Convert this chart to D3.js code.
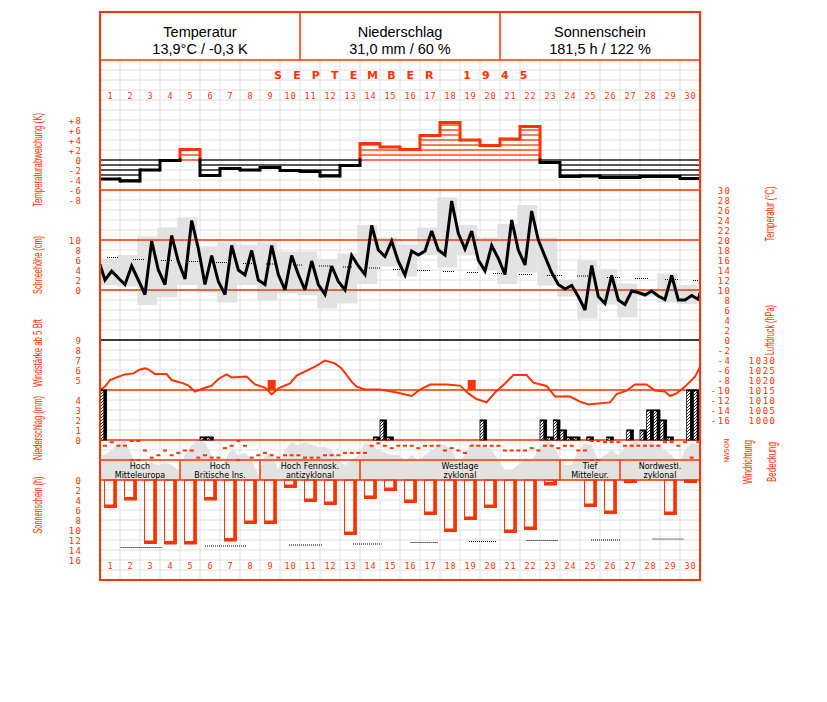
<!DOCTYPE html>
<html><head><meta charset="utf-8">
<script src="https://cdn.jsdelivr.net/npm/d3@7"></script>
<style>body{margin:0;background:#fff}</style>
</head><body><svg id="c" width="827" height="702"></svg>
<script>
// ---------------- DATA ----------------
const days = d3.range(1, 31);
const headerTitles = ["Temperatur", "Niederschlag", "Sonnenschein"];
const headerValues = ["13,9°C / -0,3 K", "31,0 mm / 60 %", "181,5 h / 122 %"];
const monthTitle = "SEPTEMBER 1945";

// daily temperature deviation (K)
const tempDeviation = [-3.8, -4.2, -2.0, -0.1, 2.1, -3.1, -1.7, -2.0, -1.5, -2.1, -2.3, -3.2, -1.1, 3.3, 2.6,
  2.1, 4.9, 7.5, 4.0, 2.9, 4.2, 6.7, -0.5, -3.3, -3.2, -3.5, -3.5, -3.3, -3.3, -3.7];

// temperature observations (°C), 3 per day (7, 14, 21 h)
const tempStart = 15.1, tempEnd = 9.5;
const tempObs = [12.0, 13.8, 12.4, 11.1, 14.8, 12.0, 9.1, 19.8, 14.0, 11.1, 20.9, 15.7, 12.2, 23.9, 18.3,
  11.1, 16.9, 11.7, 9.1, 18.9, 14.0, 13.0, 17.9, 12.0, 11.1, 18.9, 13.1, 10.0, 16.9, 13.1,
  10.0, 15.8, 11.1, 9.1, 14.8, 11.7, 10.0, 16.9, 14.8, 13.1, 22.9, 18.0, 16.7, 19.8, 15.7,
  13.0, 17.8, 17.0, 17.8, 21.8, 18.0, 17.0, 27.8, 21.3, 18.2, 21.8, 16.0, 13.8, 18.9, 16.3,
  13.1, 24.0, 18.0, 15.0, 25.8, 20.0, 16.7, 13.5, 11.1, 10.2, 10.9, 8.7, 6.0, 14.9, 8.7,
  7.3, 12.9, 8.0, 7.1, 9.8, 9.5, 9.0, 9.8, 8.8, 8.1, 12.9, 8.0, 8.0, 8.9, 8.1];
const tempMax = [16.3, 17.0, 20.7, 22.5, 24.5, 18.7, 19.5, 19.0, 19.5, 17.7, 17.7, 16.2, 17.3, 23.0, 20.5,
  19.1, 22.5, 28.5, 23.0, 20.5, 23.2, 27.0, 20.5, 12.0, 15.9, 14.2, 11.3, 10.0, 13.3, 11.0];
const tempMin = [11.0, 10.7, 7.0, 8.5, 11.0, 9.5, 7.5, 11.0, 7.9, 9.3, 9.0, 6.3, 7.3, 11.2, 14.7,
  12.7, 17.0, 14.5, 16.9, 14.0, 11.2, 13.5, 10.9, 8.7, 4.3, 7.1, 4.5, 8.7, 7.5, 7.2];
// long-term mean temperature (dotted), period start/end in days since 1 Sep 0 h
const normTempStart = [0.35, 1.65, 3.05, 4.45, 5.8, 7.15, 8.3, 9.65, 10.95, 12.15, 13.45, 14.65, 15.85, 17.15, 18.35, 19.65, 20.95, 22.35, 23.85, 25.35, 26.75, 28.25, 29.65];
const normTempEnd = [0.95, 2.2, 3.6, 5.0, 6.35, 7.65, 8.85, 10.15, 11.5, 12.65, 14.0, 15.1, 16.5, 17.7, 18.9, 20.15, 21.6, 23.1, 24.4, 26.0, 27.4, 28.9, 30.0];
const normTemp = [16.5, 16.1, 15.9, 15.7, 15.5, 15.3, 15.2, 15.0, 14.8, 14.6, 14.4, 14.1, 13.9, 13.7, 13.5, 13.3, 13.1, 12.9, 12.8, 12.5, 12.3, 12.1, 11.9];

// air pressure trace (time in days, hPa)
const pressureTime = [0, 0.25, 0.5, 0.83, 1.25, 1.67, 2.0, 2.25, 2.42, 2.75, 3.33, 3.58, 4.17, 4.42, 4.75, 5.08, 5.58, 5.92, 6.33, 6.58,
  7.33, 7.75, 8.25, 8.58, 8.92, 9.5, 9.83, 10.33, 10.75, 11.25, 11.75, 12.08, 12.58, 12.83, 13.25, 14.0, 14.83, 15.58, 16.0, 16.5,
  17.33, 18.0, 18.42, 18.83, 19.33, 19.75, 20.25, 20.67, 21.33, 21.67, 22.33, 22.75, 23.5, 24.0, 24.42, 25.5, 25.83, 26.33, 26.75, 27.33,
  27.75, 28.25, 28.5, 28.83, 29.25, 29.75, 30.0];
const pressure = [1015, 1016.7, 1020, 1021.3, 1022.8, 1023.3, 1025.3, 1025.8, 1025.3, 1023, 1023, 1020, 1018.3, 1017.2, 1014.2, 1015.5, 1017.2, 1020.5, 1022.8, 1021.3,
  1021.7, 1017.8, 1016.2, 1012.8, 1015.8, 1018.3, 1022.2, 1024.7, 1026.7, 1029.7, 1028.3, 1025.8, 1019.2, 1016.7, 1015.3, 1015.2, 1013.7, 1012, 1015.2, 1017.7,
  1017.7, 1017.2, 1013.3, 1010.5, 1008.8, 1013.8, 1018.3, 1022.5, 1022.5, 1018.7, 1017, 1011.7, 1011.7, 1009.2, 1007.8, 1008.8, 1013, 1014.7, 1017.8, 1017.8,
  1014.7, 1014.2, 1012, 1013.3, 1016.7, 1021.7, 1026.5];

// wind force >= 5 Bft
const windDays = [9, 19];
const windForce = [5, 5];

// precipitation per third of day (day, third 0..2, mm)
const precipDay = [1, 6, 6, 14, 15, 15, 20, 23, 23, 23, 24, 24, 24, 25, 26, 27, 28, 28, 28, 29, 29, 30, 30];
const precipThird = [0, 0, 1, 2, 0, 1, 0, 0, 1, 2, 0, 1, 2, 1, 1, 1, 0, 1, 2, 0, 1, 1, 2];
const precipMm = [5.0, 0.3, 0.3, 0.3, 2.0, 0.3, 2.0, 2.0, 0.3, 2.0, 1.0, 0.3, 0.3, 0.3, 0.3, 1.0, 1.0, 3.0, 3.0, 2.0, 0.3, 5.0, 7.8];

// wind direction (degrees) 3 per day
const windDir = [90, 22.5, 90, 90, 0, 0, 180, 315, 270, 180, 270, 225, 180, 180, 315,
  270, 315, 315, 135, 90, 0, 90, 315, 270, 225, 270, 315, 270, 270, 270,
  315, 315, 315, 270, 270, 270, 225, 225, 225, 225, 90, 45, 90, 135, 90,
  90, 90, 135, 90, 90, 90, 180, 135, 180, 225, 90, 90, 90, 90, 90,
  180, 180, 180, 180, 135, 180, 90, 90, 135, 90, 90, 180, 180, 0, 0,
  22.5, 22.5, 22.5, 90, 90, 90, 90, 90, 90, 22.5, 22.5, 90, 22.5, 315, 22.5];
const dirLabels = ["N", "O", "S", "W", "N"];
const dirTicks = [0, 90, 180, 270, 360];

// cloud cover (octas) 3 per day
const cloudCover = [5, 6, 7.5, 7.7, 5, 2, 3, 3.5, 3, 3.5, 3, 2, 5, 7, 8, 7.5, 5, 2, 4, 6.4, 5, 5.5, 4, 1, 5, 5.4, 2, 6, 7.6, 7,
  7.6, 7, 6.6, 6.6, 6, 4, 3, 4, 5, 7.4, 7, 6, 5.5, 5, 5, 4, 5, 4, 5, 6, 7, 7, 6, 3.4, 5, 7.7, 7, 7, 6, 4,
  2, 2, 3, 4.4, 4, 6, 7.7, 7.5, 5, 3, 3, 6, 7.4, 7, 4, 5, 6, 5, 6.5, 7.6, 7.6, 7.6, 7.6, 7, 6, 5, 3, 6, 7.5, 7];

// weather types
const weatherLine1 = ["Hoch", "Hoch", "Hoch Fennosk.", "Westlage", "Tief", "Nordwestl."];
const weatherLine2 = ["Mitteleuropa", "Britische Ins.", "antizyklonal", "zyklonal", "Mitteleur.", "zyklonal"];
const weatherFirstDay = [1, 5, 9, 14, 24, 27];
const weatherLastDay = [4, 8, 13, 23, 26, 30];

// sunshine (h)
const sunshine = [5.5, 4.0, 12.7, 12.8, 12.8, 4.0, 12.2, 8.7, 8.7, 1.5, 4.3, 4.9, 10.9, 3.7, 2.1,
  4.5, 6.9, 10.3, 7.9, 5.5, 10.5, 9.9, 1.0, 0, 5.3, 6.7, 0.5, 0, 6.9, 0.5];
const normSunStart = [1.03, 5.25, 9.45, 12.65, 15.53, 18.45, 21.33, 24.55, 27.63];
const normSunEnd = [3.08, 7.3, 11.15, 14.08, 16.92, 19.8, 22.88, 26.0, 29.17];
const normSun = [13.5, 13.2, 13.0, 12.8, 12.5, 12.3, 12.1, 12.0, 11.8];

// tick labels
const devTicks = [8, 6, 4, 2, 0, -2, -4, -6, -8];
const snowTicks = [10, 8, 6, 4, 2, 0];
const windTicks = [9, 8, 7, 6, 5];
const precipTicks = [4, 3, 2, 1, 0];
const sunTicks = [0, 2, 4, 6, 8, 10, 12, 14, 16];
const tempTicks = d3.range(30, -17, -2);
const pressureTicks = [1030, 1025, 1020, 1015, 1010, 1005, 1000];

// ---------------- DRAWING ----------------
const RED = "#ff3300", GRID = "#e0e0e0", GRAY = "#e2e2e2";
const svg = d3.select("#c");
svg.append("rect").attr("width", 827).attr("height", 702).attr("fill", "#fff");

const x = d3.scaleLinear().domain([0, 30]).range([100, 700]);
const obsFrac = [0.25, 7 / 12, 11 / 12];
const obsT = i => Math.floor(i / 3) + obsFrac[i % 3];

const yDev = d3.scaleLinear().domain([-8, 8]).range([200, 120]);
const yT = d3.scaleLinear().domain([-16, 30]).range([420, 190]);
const ySnow = d3.scaleLinear().domain([0, 10]).range([290, 240]);
const yWind = d3.scaleLinear().domain([4, 9]).range([390, 340]);
const yP = d3.scaleLinear().domain([1000, 1030]).range([420, 360]);
const yPr = d3.scaleLinear().domain([0, 5]).range([440, 390]).clamp(true);
const yDir = d3.scaleLinear().domain([0, 360]).range([441, 460]);
const yCloud = d3.scaleLinear().domain([0, 8]).range([480, 440]);
const ySun = d3.scaleLinear().domain([0, 16]).range([480, 560]);
const yGrid = d3.scaleLinear().domain([0, 52]).range([60, 580]);

const defs = svg.append("defs");
defs.append("clipPath").attr("id", "plot").append("rect").attr("x", 100).attr("y", 60).attr("width", 600).attr("height", 520);
const pat = defs.append("pattern").attr("id", "hatch").attr("patternUnits", "userSpaceOnUse").attr("width", 3).attr("height", 3);
pat.append("rect").attr("width", 3).attr("height", 3).attr("fill", "#fff");
pat.append("path").attr("d", "M-1,1 L1,-1 M0,3 L3,0 M2,4 L4,2").attr("stroke", "#000").attr("stroke-width", 0.8);

const plot = svg.append("g").attr("clip-path", "url(#plot)");

// grid
plot.append("g").selectAll("line").data(d3.range(1, 52)).join("line")
  .attr("x1", 100).attr("x2", 700).attr("y1", d => yGrid(d)).attr("y2", d => yGrid(d))
  .attr("stroke", GRID).attr("stroke-width", 1);
plot.append("g").selectAll("line").data(d3.range(1, 30)).join("line")
  .attr("x1", d => x(d)).attr("x2", d => x(d)).attr("y1", 60).attr("y2", 580)
  .attr("stroke", GRID).attr("stroke-width", 1);

// temperature min/max boxes
plot.append("g").selectAll("rect").data(days).join("rect")
  .attr("x", (d, i) => x(i) - 2.7).attr("width", x(1) - x(0))
  .attr("y", (d, i) => yT(tempMax[i])).attr("height", (d, i) => yT(tempMin[i]) - yT(tempMax[i]))
  .attr("fill", GRAY);

// cloud cover area
const cloudPts = [{ t: 0, c: cloudCover[0] }].concat(cloudCover.map((c, i) => ({ t: obsT(i), c })), [{ t: 30, c: cloudCover[89] }]);
plot.append("path").datum(cloudPts)
  .attr("d", d3.area().x(p => x(p.t)).y0(yCloud(0)).y1(p => yCloud(p.c)))
  .attr("fill", GRAY);

// temperature deviation
const devG = plot.append("g");
tempDeviation.forEach((v, i) => {
  const col = v > 0 ? RED : "#000";
  const n = Math.floor(Math.abs(v));
  const s = v > 0 ? 1 : -1;
  for (let k = 0; k <= n; k++) {
    devG.append("line").attr("x1", x(i)).attr("x2", x(i + 1)).attr("y1", yDev(s * k)).attr("y2", yDev(s * k))
      .attr("stroke", col).attr("stroke-width", 1.3);
  }
  devG.append("line").attr("x1", x(i)).attr("x2", x(i + 1)).attr("y1", yDev(v)).attr("y2", yDev(v))
    .attr("stroke", col).attr("stroke-width", 3);
});
for (let i = 0; i < 29; i++) {
  const a = tempDeviation[i], b = tempDeviation[i + 1];
  const lo = Math.min(a, b), hi = Math.max(a, b);
  if (hi > 0) devG.append("line").attr("x1", x(i + 1)).attr("x2", x(i + 1))
    .attr("y1", yDev(Math.max(lo, 0)) + 1.5).attr("y2", yDev(hi) - 1.5).attr("stroke", RED).attr("stroke-width", 3);
  if (lo < 0) devG.append("line").attr("x1", x(i + 1)).attr("x2", x(i + 1))
    .attr("y1", yDev(Math.min(hi, 0)) - 1.5).attr("y2", yDev(lo) + 1.5).attr("stroke", "#000").attr("stroke-width", 3);
}

// panel separators
const hline = (y, col, w) => plot.append("line").attr("x1", 100).attr("x2", 700).attr("y1", y).attr("y2", y).attr("stroke", col).attr("stroke-width", w);
hline(yDev(-6), RED, 1.5);
hline(ySnow(10), RED, 1.5);
hline(ySnow(0), RED, 1.5);
hline(yT(0), "#000", 1.5);
hline(yWind(4), RED, 1.5);
hline(yPr(0), RED, 1.5);

// normal temperature (dotted)
plot.append("g").selectAll("line").data(normTemp).join("line")
  .attr("x1", (d, i) => x(normTempStart[i])).attr("x2", (d, i) => x(normTempEnd[i]))
  .attr("y1", d => yT(d)).attr("y2", d => yT(d))
  .attr("stroke", "#000").attr("stroke-width", 1).attr("stroke-dasharray", "1,1");

// temperature line
const tPts = [{ t: 0, v: tempStart }].concat(tempObs.map((v, i) => ({ t: obsT(i), v })), [{ t: 30, v: tempEnd }]);
plot.append("path").datum(tPts)
  .attr("d", d3.line().x(p => x(p.t)).y(p => yT(p.v)))
  .attr("fill", "none").attr("stroke", "#000").attr("stroke-width", 3).attr("stroke-linejoin", "miter").attr("stroke-miterlimit", 3);

// pressure line
plot.append("path").datum(pressure.map((p, i) => ({ t: pressureTime[i], p })))
  .attr("d", d3.line().x(d => x(d.t)).y(d => yP(d.p)))
  .attr("fill", "none").attr("stroke", RED).attr("stroke-width", 2);

// wind bars
plot.append("g").selectAll("rect").data(windForce).join("rect")
  .attr("x", (d, i) => x(windDays[i] - 1 + obsFrac[1]) - 4).attr("width", 8)
  .attr("y", d => yWind(d)).attr("height", d => yWind(4) - yWind(d)).attr("fill", RED);

// precipitation bars
const prG = plot.append("g");
precipMm.forEach((mm, i) => {
  const t0 = precipDay[i] - 1 + precipThird[i] / 3;
  const x0 = x(t0), x1 = x(t0 + 1 / 3), yt = yPr(mm), yb = yPr(0);
  prG.append("rect").attr("x", x0).attr("y", yt).attr("width", x1 - x0).attr("height", yb - yt)
    .attr("fill", "url(#hatch)").attr("stroke", "#000").attr("stroke-width", 0.8);
  prG.append("rect").attr("x", x1 - 3.3).attr("y", yt).attr("width", 3.3).attr("height", yb - yt).attr("fill", "#000");
  prG.append("line").attr("x1", x0).attr("x2", x1).attr("y1", yt + 0.5).attr("y2", yt + 0.5).attr("stroke", "#000").attr("stroke-width", 1.5);
});

// wind direction dots
const dirPts = [];
windDir.forEach((d, i) => { dirPts.push({ t: obsT(i), d }); if (d === 0) dirPts.push({ t: obsT(i), d: 360 }); });
plot.append("g").selectAll("rect").data(dirPts).join("rect")
  .attr("x", p => x(p.t) - 2).attr("y", p => yDir(p.d) - 1).attr("width", 4).attr("height", 2).attr("fill", RED);

// weather types band
const wtG = plot.append("g");
hline(yCloud(0) - 20, RED, 1.5);
hline(yCloud(0), RED, 1.5);
weatherLine1.forEach((t, i) => {
  const xa = x(weatherFirstDay[i] - 1), xb = x(weatherLastDay[i]);
  wtG.append("line").attr("x1", xb).attr("x2", xb).attr("y1", 460).attr("y2", 480).attr("stroke", RED).attr("stroke-width", 1.5);
  const cx = (xa + xb) / 2;
  wtG.append("text").attr("x", cx).attr("y", 469).attr("text-anchor", "middle").attr("font-family", "DejaVu Sans").attr("font-size", 8).attr("fill", "#000").text(t);
  wtG.append("text").attr("x", cx).attr("y", 477.5).attr("text-anchor", "middle").attr("font-family", "DejaVu Sans").attr("font-size", 8).attr("fill", "#000").text(weatherLine2[i]);
});

// sunshine bars
const sunG = plot.append("g");
sunshine.forEach((h, i) => {
  if (h <= 0) return;
  const x0 = x(i) + 4, w = 12.7, y1 = ySun(h), y0 = ySun(0);
  sunG.append("rect").attr("x", x0 + 0.5).attr("y", y0).attr("width", w - 1).attr("height", y1 - y0)
    .attr("fill", "none").attr("stroke", RED).attr("stroke-width", 1);
  sunG.append("rect").attr("x", x0 + w - 3.5).attr("y", y0).attr("width", 3.5).attr("height", y1 - y0).attr("fill", RED);
  sunG.append("rect").attr("x", x0).attr("y", Math.max(y0, y1 - 3)).attr("width", w).attr("height", Math.min(3, y1 - y0 + 0.5)).attr("fill", RED);
});
plot.append("g").selectAll("line").data(normSun).join("line")
  .attr("x1", (d, i) => x(normSunStart[i])).attr("x2", (d, i) => x(normSunEnd[i]))
  .attr("y1", d => ySun(d)).attr("y2", d => ySun(d))
  .attr("stroke", "#000").attr("stroke-width", 1).attr("stroke-dasharray", "1,1");

// day numbers
const dayText = (y) => svg.append("g").selectAll("text").data(days).join("text")
  .attr("x", d => x(d - 0.5) + 0.5).attr("y", y).attr("text-anchor", "middle")
  .attr("font-family", "DejaVu Sans Mono").attr("font-size", 8.5).attr("letter-spacing", 1).attr("fill", RED).text(d => d);
dayText(99);
dayText(569);

// month title
svg.append("g").selectAll("text").data(monthTitle.split("")).join("text")
  .attr("x", (c, i) => 278 + i * 18.9).attr("y", 79).attr("text-anchor", "middle")
  .attr("font-family", "DejaVu Sans").attr("font-weight", "bold").attr("font-size", 11).attr("fill", RED).text(c => c);

// frame & header
svg.append("rect").attr("x", 100).attr("y", 12).attr("width", 600).attr("height", 568)
  .attr("fill", "none").attr("stroke", RED).attr("stroke-width", 2);
svg.append("line").attr("x1", 100).attr("x2", 700).attr("y1", 60).attr("y2", 60).attr("stroke", RED).attr("stroke-width", 1.5);
headerTitles.forEach((t, i) => {
  const xa = 100 + i * 200;
  if (i > 0) svg.append("line").attr("x1", xa).attr("x2", xa).attr("y1", 12).attr("y2", 60).attr("stroke", RED).attr("stroke-width", 1.5);
  svg.append("text").attr("x", xa + 100).attr("y", 37).attr("text-anchor", "middle").attr("font-family", "Liberation Sans, Arial").attr("font-size", 14.5).attr("fill", "#000").text(t);
  svg.append("text").attr("x", xa + 100).attr("y", 54).attr("text-anchor", "middle").attr("font-family", "Liberation Sans, Arial").attr("font-size", 14.5).attr("fill", "#000").text(headerValues[i]);
});

// axes
function axisAt(scale, values, fmt, xPos) {
  const g = svg.append("g").attr("transform", `translate(${xPos},0)`)
    .call(d3.axisLeft(scale).tickValues(values).tickSize(0).tickPadding(0).tickFormat(fmt));
  g.select(".domain").remove();
  g.selectAll("text").attr("fill", RED).attr("font-family", "DejaVu Sans Mono").attr("font-size", 9)
    .attr("letter-spacing", 1.5).attr("dy", "0.35em");
  return g;
}
axisAt(yDev, devTicks, d => d > 0 ? "+" + d : String(d), 82.5);
axisAt(ySnow, snowTicks, d => String(d), 82.5);
axisAt(yWind, windTicks, d => String(d), 82.5);
axisAt(yPr, precipTicks, d => String(d), 82.5);
axisAt(ySun, sunTicks, d => String(d), 82.5);
axisAt(yT, tempTicks, d => String(d), 731.5);
axisAt(yP, pressureTicks, d => String(d), 776.5);

// wind direction letters
svg.append("g").selectAll("text").data(dirLabels).join("text")
  .attr("transform", (d, i) => `translate(727,${yDir(dirTicks[i])}) rotate(-90)`)
  .attr("text-anchor", "middle").attr("dy", "0.35em")
  .attr("font-family", "DejaVu Sans").attr("font-size", 6.5).attr("fill", RED).text(d => d);

// rotated axis titles
const titles = [
  ["Temperaturabweichung (K)", 38, 160, 94],
  ["Schneehöhe (cm)", 38, 265, 58],
  ["Windstärke ab 5 Bft", 38, 353, 68],
  ["Niederschlag (mm)", 38, 428, 64],
  ["Sonnenschein (h)", 38, 505, 57],
  ["Temperatur (°C)", 770, 214, 55],
  ["Luftdruck (hPa)", 770, 330, 50],
  ["Windrichtung", 748, 462, 44],
  ["Bedeckung", 772, 462, 40]
];
svg.append("g").selectAll("text").data(titles).join("text")
  .attr("transform", d => `translate(${d[1]},${d[2]}) rotate(-90)`)
  .attr("text-anchor", "middle").attr("dy", "0.35em")
  .attr("font-family", "Liberation Sans, Arial").attr("font-size", 12)
  .attr("textLength", d => d[3]).attr("lengthAdjust", "spacingAndGlyphs")
  .attr("fill", RED).text(d => d[0]);
</script>
</body></html>
